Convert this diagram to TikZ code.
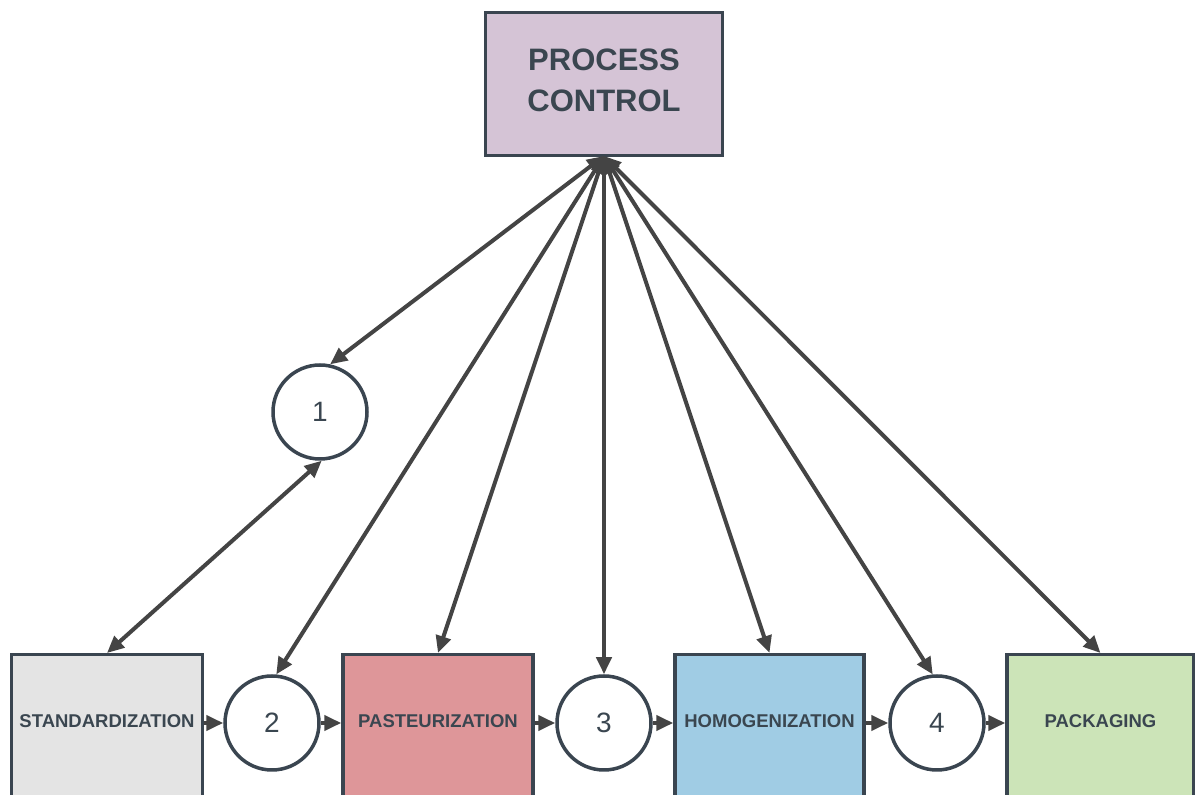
\documentclass[tikz,border=0pt]{standalone}
\usepackage{fontspec}
\setmainfont{Liberation Sans}
\usetikzlibrary{arrows.meta}
\definecolor{edge}{HTML}{3A4550}
\definecolor{wire}{HTML}{444444}
\definecolor{ink}{HTML}{3A4650}
\definecolor{pcfill}{HTML}{D5C4D6}
\definecolor{stdfill}{HTML}{E4E4E4}
\definecolor{pasfill}{HTML}{DE9699}
\definecolor{homfill}{HTML}{A0CCE4}
\definecolor{pakfill}{HTML}{CCE4B8}
\tikzset{
  stagebox/.style={draw=edge, line width=3.5pt, minimum width=#1, minimum height=150pt, inner sep=0pt},
  numcirc/.style={circle, draw=edge, line width=3.5pt, fill=white, minimum size=94pt, inner sep=0pt,
    font=\fontsize{28}{30}\selectfont, text=ink},
  lbl/.style={font=\bfseries\fontsize{18.5}{20}\selectfont, text=ink},
  tip/.style={Triangle[length=17pt,width=15pt]},
  link/.style={draw=wire, line width=4pt, -{Triangle[length=17pt,width=15pt]}},
  duplex/.style={draw=wire, line width=4pt, {Triangle[length=17pt,width=15pt]}-{Triangle[length=17pt,width=15pt]}},
}
\begin{document}
\begin{tikzpicture}[x=1pt,y=1pt]
\useasboundingbox (0,0) rectangle (1195,795);
\clip (0,0) rectangle (1195,795);
\fill[white] (0,0) rectangle (1195,795);

% central control box
\node[draw=edge, line width=3.5pt, fill=pcfill, minimum width=237pt, minimum height=143pt, inner sep=0pt] (pc) at (604,711) {};
\node[font=\bfseries\fontsize{31}{41}\selectfont, text=ink, align=center] (pct) at (604,715) {PROCESS\\CONTROL};

% process stages (boxes run off the lower edge)
\node[stagebox=191pt, fill=stdfill, anchor=north] (std) at (107,142) {};
\node[stagebox=190pt, fill=pasfill, anchor=north] (pas) at (438,142) {};
\node[stagebox=189pt, fill=homfill, anchor=north] (hom) at (769.5,142) {};
\node[stagebox=187pt, fill=pakfill, anchor=north] (pak) at (1100.5,142) {};
\node[lbl] (stdt) at (107,74) {STANDARDIZATION};
\node[lbl] (past) at (438,74) {PASTEURIZATION};
\node[lbl] (homt) at (769.5,74) {HOMOGENIZATION};
\node[lbl] (pakt) at (1100.5,74) {PACKAGING};

% checkpoints
\node[numcirc] (c1) at (320,383) {1};
\node[numcirc] (c2) at (272,72) {2};
\node[numcirc] (c3) at (604,72) {3};
\node[numcirc] (c4) at (937,72) {4};

% flow along the line
\path[link] (std.east |- c2) -- (c2.west);
\path[link] (c2.east) -- (pas.west |- c2);
\path[link] (pas.east |- c3) -- (c3.west);
\path[link] (c3.east) -- (hom.west |- c3);
\path[link] (hom.east |- c4) -- (c4.west);
\path[link] (c4.east) -- (pak.west |- c4);

% control links
\coordinate (hub) at (604,639);
\path[duplex] (hub) -- (c1.78);
\path[duplex] (c1.272) -- (std.north);
\path[duplex] (hub) -- (c2.85);
\path[duplex] (hub) -- (pas.north);
\path[duplex] (hub) -- (c3.north);
\path[duplex] (hub) -- (hom.north);
\path[duplex] (hub) -- (c4.95);
\path[duplex] (hub) -- (pak.north);
\end{tikzpicture}
\end{document}
